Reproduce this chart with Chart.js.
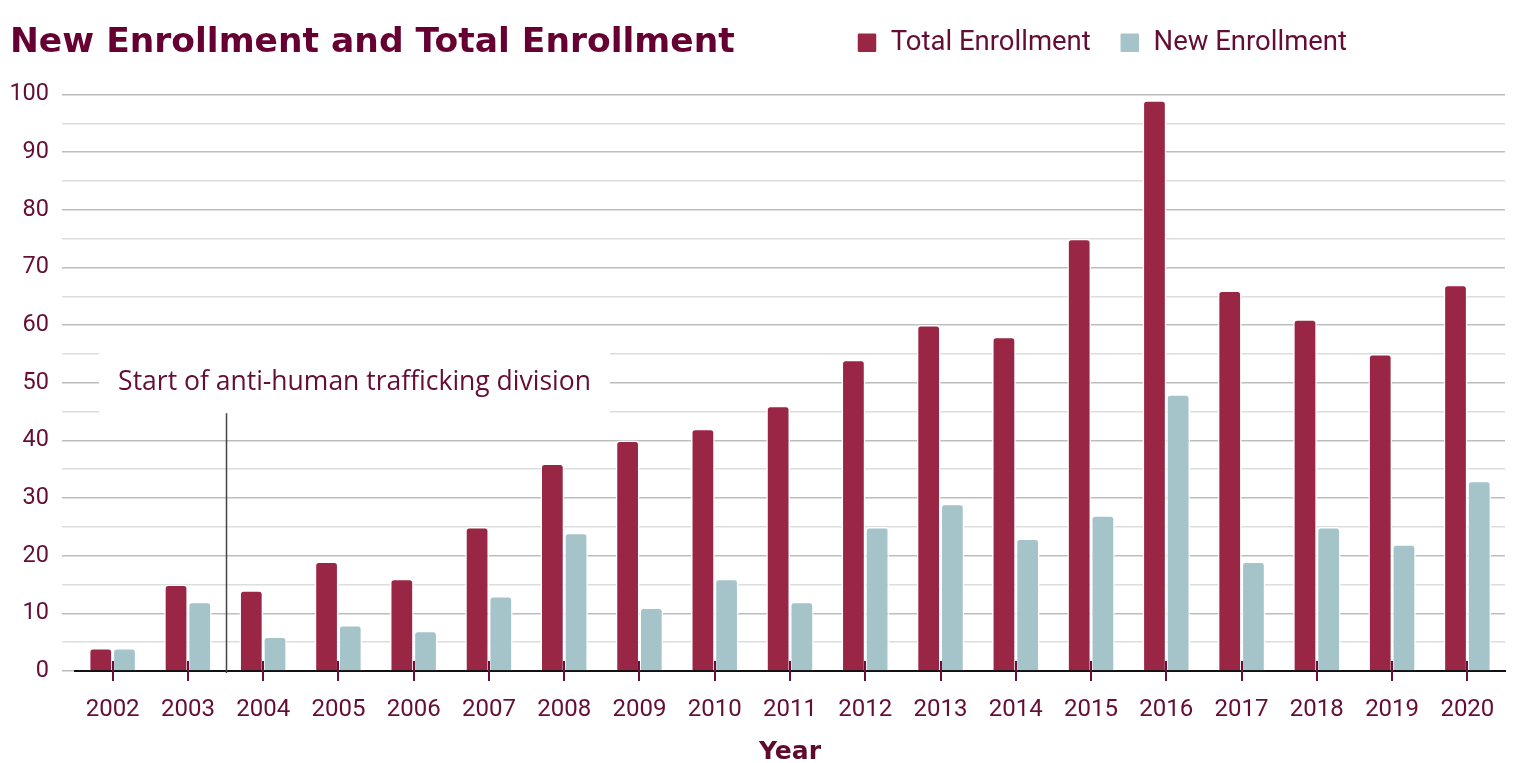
<!DOCTYPE html>
<html>
<head>
<meta charset="utf-8">
<script src="https://cdn.jsdelivr.net/npm/chart.js@4.4.1/dist/chart.umd.min.js"></script>
<style>
html, body { margin: 0; padding: 0; background: #fff; }
#wrap { width: 1522px; height: 763px; position: relative; }
</style>
</head>
<body>
<div id="wrap"><canvas id="myChartbar"></canvas></div>
<script>
const years = ['2002','2003','2004','2005','2006','2007','2008','2009','2010','2011',
               '2012','2013','2014','2015','2016','2017','2018','2019','2020'];
const totalEnrollment = [4, 15, 14, 19, 16, 25, 36, 40, 42, 46, 54, 60, 58, 75, 99, 66, 61, 55, 67];
const newEnrollment   = [4, 12, 6, 8, 7, 13, 24, 11, 16, 12, 25, 29, 23, 27, 48, 19, 25, 22, 33];
const yMax = 100;
const chartTitle = 'New Enrollment and Total Enrollment';
const axisTitle = 'Year';
const noteText = 'Start of anti-human trafficking division';
const noteAt = 1.5;      // between 2003 and 2004
const noteLineTop = 44.7;
const noteBoxTop = 55.3;
const noteMid = 50;

const textColor = '#650d35';

// title, legend placement, annotation and x tick marks
let extras = {
    id: 'extras',
    beforeDraw(chart) {
        // put the legend on the title row
        chart.legend.left = 828;
        chart.legend.top = 0;
    },
    beforeDatasetsDraw(chart) {
        let ctx = chart.ctx;
        let x = chart.scales.x, y = chart.scales.y;
        let lx = x.getPixelForValue(noteAt);
        ctx.save();
        ctx.font = '26.5px "Open Sans"';
        let w = ctx.measureText(noteText).width;
        let cx = lx + 129;
        let cy = y.getPixelForValue(noteMid);
        ctx.fillStyle = '#ffffff';
        ctx.fillRect(cx - w / 2 - 19, y.getPixelForValue(noteBoxTop), w + 38, y.getPixelForValue(noteLineTop) - y.getPixelForValue(noteBoxTop));
        ctx.fillStyle = textColor;
        ctx.textAlign = 'center';
        ctx.textBaseline = 'middle';
        ctx.fillText(noteText, cx, cy);
        ctx.restore();
    },
    afterDatasetsDraw(chart) {
        let ctx = chart.ctx;
        let x = chart.scales.x, y = chart.scales.y;
        let area = chart.chartArea;
        ctx.save();
        ctx.strokeStyle = '#444444';
        ctx.lineWidth = 1.5;
        let lx = Math.round(x.getPixelForValue(noteAt)) + 0.5;
        ctx.beginPath();
        ctx.moveTo(lx, y.getPixelForValue(noteLineTop));
        ctx.lineTo(lx, area.bottom + 2);
        ctx.stroke();
        ctx.strokeStyle = '#6b0f3a';
        ctx.lineWidth = 2;
        x.ticks.forEach((t, i) => {
            let px = Math.round(x.getPixelForTick(i));
            ctx.beginPath();
            ctx.moveTo(px, area.bottom - 10);
            ctx.lineTo(px, area.bottom + 10);
            ctx.stroke();
        });
        ctx.restore();
    },
    afterDraw(chart) {
        let ctx = chart.ctx;
        ctx.save();
        ctx.font = 'bold 34.5px "DejaVu Sans"';
        ctx.fillStyle = '#660033';
        ctx.textBaseline = 'alphabetic';
        ctx.fillText(chartTitle, 10, 52);
        ctx.restore();
    }
};

let bar = document.getElementById('myChartbar').getContext('2d');
let myBarChart = new Chart(bar, {
    type: 'bar',
    data: {
        labels: years,
        datasets: [{
            label: 'Total Enrollment',
            data: totalEnrollment,
            backgroundColor: '#9a2645',
            borderColor: '#ffffff',
            borderWidth: 1.5,
            borderRadius: 4,
            borderSkipped: 'start'
        }, {
            label: 'New Enrollment',
            data: newEnrollment,
            backgroundColor: '#a4c4c9',
            borderColor: '#ffffff',
            borderWidth: 1.5,
            borderRadius: 4,
            borderSkipped: 'start'
        }]
    },
    options: {
        responsive: true,
        maintainAspectRatio: false,
        animation: false,
        categoryPercentage: 0.63,
        barPercentage: 1.0,
        layout: { padding: { top: 28, right: 17, bottom: 0, left: 0 } },
        plugins: {
            title: { display: false },
            tooltip: { enabled: false },
            legend: {
                position: 'top',
                align: 'start',
                labels: {
                    font: { family: 'Roboto', size: 27.5 },
                    color: textColor,
                    boxWidth: 20,
                    boxHeight: 20,
                    padding: 29,
                    useBorderRadius: true,
                    borderRadius: 2
                }
            }
        },
        scales: {
            x: {
                grid: { display: false, drawTicks: false },
                border: { display: true, color: '#111111', width: 2 },
                ticks: {
                    font: { family: 'Roboto', size: 24 },
                    color: textColor,
                    padding: 25,
                    maxRotation: 0
                },
                title: {
                    display: true,
                    text: axisTitle,
                    font: { family: 'DejaVu Sans', size: 25, weight: 'bold' },
                    color: '#5e0b2e',
                    padding: { top: 12, bottom: -4 }
                },
                afterFit(scale) { scale.height = 92; }
            },
            y: {
                min: 0,
                max: yMax,
                border: { display: false },
                grid: {
                    lineWidth: 1.5,
                    tickLength: 13,
                    color: (c) => (c.tick && c.tick.value % 10 === 0) ? '#bdbdbd' : '#dddddd',
                    tickColor: (c) => (c.tick && c.tick.value % 10 === 0) ? '#bdbdbd' : '#dddddd'
                },
                ticks: {
                    stepSize: 5,
                    maxTicksLimit: 25,
                    autoSkip: false,
                    font: { family: 'Roboto', size: 23.5 },
                    color: textColor,
                    padding: 13,
                    callback: (v) => v % 10 === 0 ? v : ''
                },
                afterFit(scale) { scale.width = 75; }
            }
        }
    },
    plugins: [extras]
});
</script>
</body>
</html>
